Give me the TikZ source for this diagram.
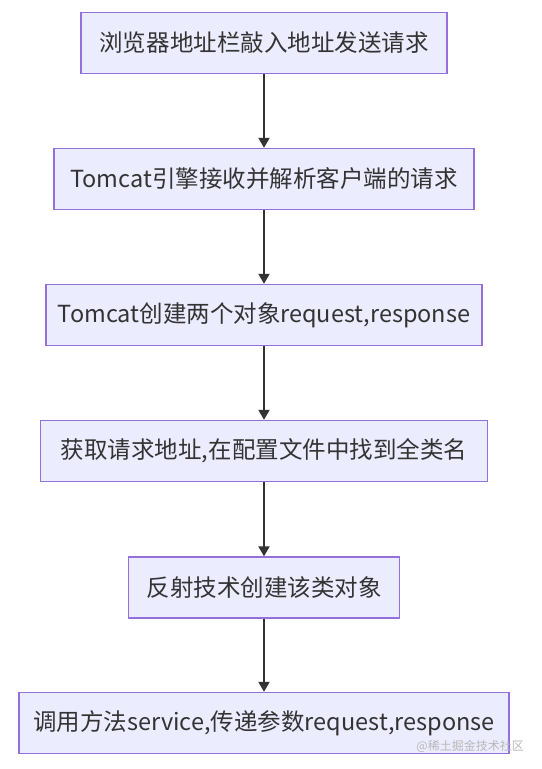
\documentclass[tikz,border=0pt]{standalone}
\usepackage{fontspec}
\setmainfont{Noto Sans CJK SC}
\usetikzlibrary{arrows.meta}
\definecolor{boxfill}{HTML}{ECECFF}
\definecolor{boxline}{HTML}{9370DB}
\definecolor{arrowc}{HTML}{333333}
\definecolor{textc}{HTML}{333333}
\definecolor{wmark}{HTML}{B8B8B8}
\tikzset{
  stepbox/.style={draw=boxline, fill=boxfill, line width=1.4bp, inner sep=0pt,
    text=textc, font=\fontsize{23.5bp}{26bp}\selectfont, minimum height=61bp},
  flow/.style={draw=arrowc, line width=2bp, -{Triangle[length=10bp,width=11bp]}}
}
\begin{document}
\begin{tikzpicture}[x=1bp,y=-1bp]
\path[fill=white] (0,0) rectangle (542,769);
\useasboundingbox (0,0) rectangle (542,769);
\node[stepbox, minimum width=366bp] (n1) at (264,43) {浏览器地址栏敲入地址发送请求};
\node[stepbox, minimum width=420bp] (n2) at (264,179) {Tomcat引擎接收并解析客户端的请求};
\node[stepbox, minimum width=436bp] (n3) at (264,315) {Tomcat创建两个对象request,response};
\node[stepbox, minimum width=447bp] (n4) at (264,451) {获取请求地址,在配置文件中找到全类名};
\node[stepbox, minimum width=271bp] (n5) at (264,587.5) {反射技术创建该类对象};
\node[stepbox, minimum width=490bp] (n6) at (264,723) {调用方法service,传递参数request,response};
\draw[flow] (n1) -- (n2);
\draw[flow] (n2) -- (n3);
\draw[flow] (n3) -- (n4);
\draw[flow] (n4) -- (n5);
\draw[flow] (n5) -- (n6);
\node[anchor=east, text=wmark, font=\fontsize{12bp}{14bp}\selectfont, inner sep=0pt] (wm) at (524,746) {@稀土掘金技术社区};
\end{tikzpicture}
\end{document}
